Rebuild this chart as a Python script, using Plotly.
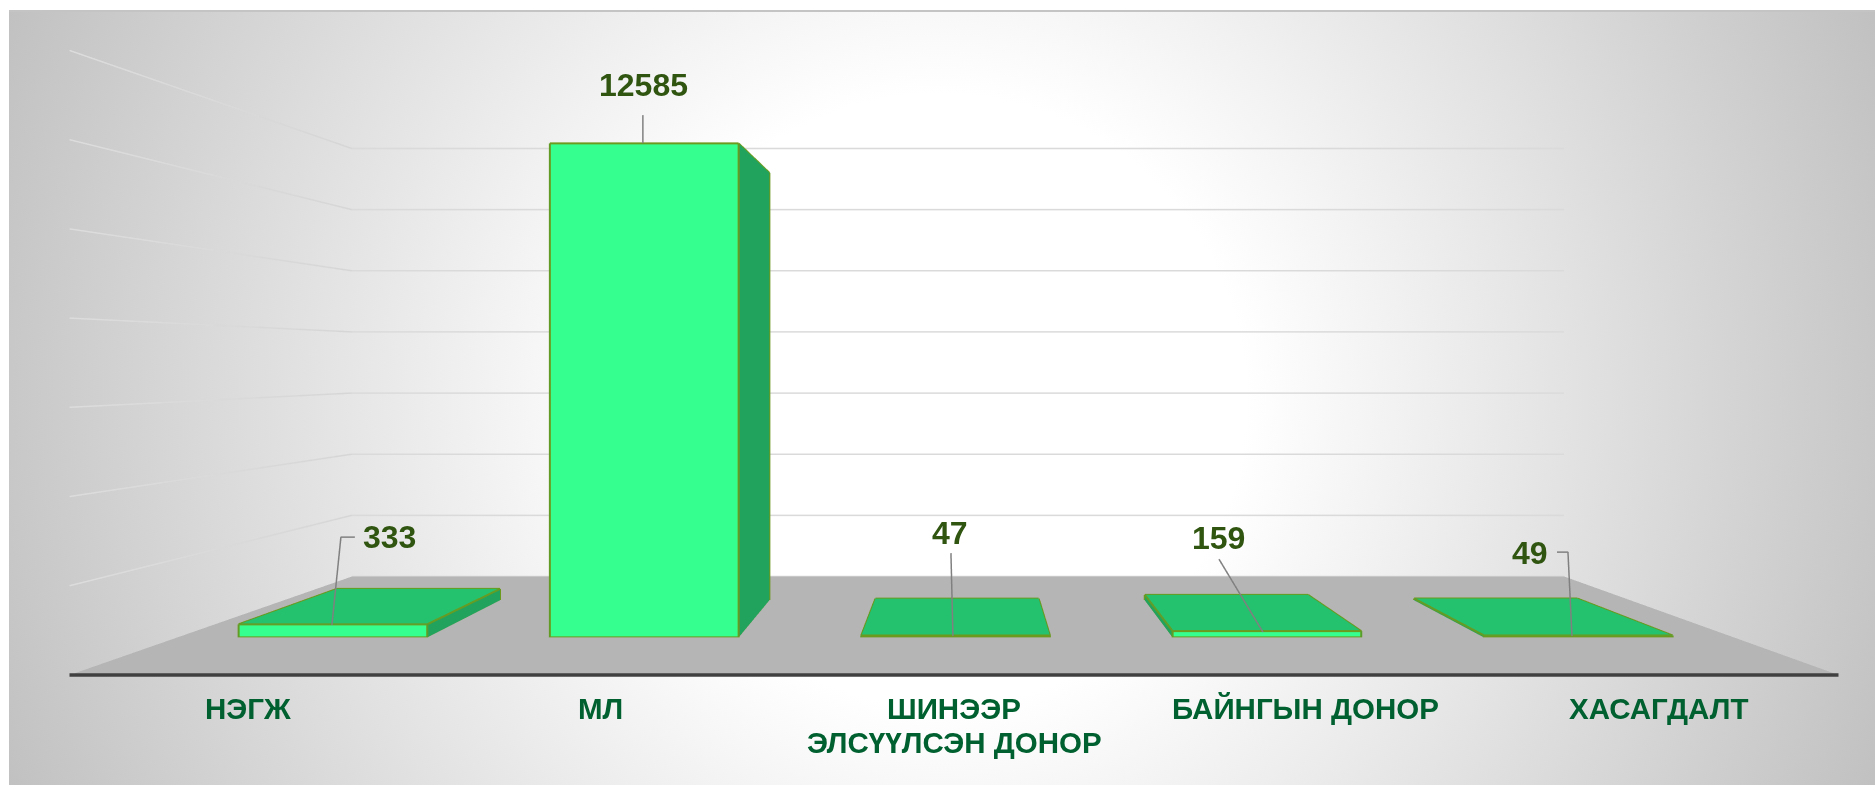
import base64
import plotly.graph_objects as go

categories = ["НЭГЖ", "МЛ", "ШИНЭЭР<br>ЭЛСҮҮЛСЭН ДОНОР", "БАЙНГЫН ДОНОР", "ХАСАГДАЛТ"]
values = [333, 12585, 47, 159, 49]
grid_values = [0, 2000, 4000, 6000, 8000, 10000, 12000, 14000]
cat_positions = [0.5, 1.5, 2.5, 3.5, 4.5]

# leader-line waypoints and label centres of the value callouts (screen px)
leaders = [[(332, 625), (341, 537), (355, 537)],
           [(643, 143), (643, 115)],
           [(953, 636), (951, 553)],
           [(1263, 632), (1219, 559)],
           [(1572, 636), (1568, 552), (1557, 552)]]
label_centres = [(389, 537), (643, 85), (950, 533), (1219, 538), (1530, 553)]
cat_xshift = [1, 0, 0, -2, -3]

BAR_W = 0.606
D0, D1 = 0.297, 0.683
ZMAX = 14000
ASPECT = dict(x=1.0, y=0.227, z=0.353)
EYE_DIST = 0.6075
EX, EZ = 0.0070, 0.0004
DOM_X, DOM_Y = [0.0326, 0.9984], [0.078, 1]

FRONT, TOP, SIDE, EDGE = "#35FF8E", "#24C26E", "#21A35D", "#6B9A1E"
FONT = "Liberation Sans, Arial, sans-serif"

# camera model, same one the scene uses: used only to place callouts in screen px
W, H = 1875, 785
CX = (DOM_X[0] + DOM_X[1]) / 2 * W
CY = (1 - (DOM_Y[0] + DOM_Y[1]) / 2) * H
PX = 1769.0
FRONT_DIST = EYE_DIST - ASPECT["y"] / 2

def scale_at(depth):
    return FRONT_DIST / (FRONT_DIST + depth * ASPECT["y"])

def project(x, depth, z):
    s = scale_at(depth)
    return (CX + (x / 5 - 0.5 - EX) * PX * s,
            CY - (z / ZMAX * ASPECT["z"] - ASPECT["z"] / 2 - EZ) * PX * s)

def unproject(px, py, depth):
    s = scale_at(depth)
    return ((((px - CX) / (PX * s)) + 0.5 + EX) * 5,
            ((CY - py) / (PX * s) + ASPECT["z"] / 2 + EZ) / ASPECT["z"] * ZMAX)

svg = ('<svg xmlns="http://www.w3.org/2000/svg" width="1875" height="785">'
       '<defs><radialGradient id="g" gradientUnits="userSpaceOnUse" cx="940" cy="400" r="1020">'
       '<stop offset="0.3" stop-color="#ffffff"/><stop offset="1" stop-color="#c0c0c0"/>'
       '</radialGradient></defs>'
       '<rect width="1875" height="785" fill="#ffffff"/>'
       '<rect x="9" y="10" width="1866" height="775" fill="url(#g)"/>'
       '<rect x="9" y="10" width="1866" height="2" fill="#c4c4c4"/></svg>')
bg = "data:image/svg+xml;base64," + base64.b64encode(svg.encode()).decode()

flat = dict(ambient=1, diffuse=0, specular=0, roughness=1, fresnel=0)
fig = go.Figure()

# floor
fig.add_trace(go.Mesh3d(x=[0, 5, 5, 0], y=[0, 0, 1, 1], z=[0, 0, 0, 0], i=[0, 0], j=[1, 2], k=[2, 3],
                        color="#b5b5b5", flatshading=True, hoverinfo="skip", lighting=flat))

# wall gridlines
gx, gy, gz = [], [], []
sx, sy, sz, sc = [], [], [], []
for g in grid_values:
    gx += [0, 5, None]
    gy += [1, 1, None]
    gz += [g, g, None]
    if g > 0:
        sx += [0, 0, None]
        sy += [0, 1, None]
        sz += [g, g, None]
        sc += ["#dcdcdc", "#d6d6d6", "#d6d6d6"]
fig.add_trace(go.Scatter3d(x=gx, y=gy, z=gz, mode="lines", line=dict(color="#dadada", width=3), hoverinfo="skip"))
fig.add_trace(go.Scatter3d(x=sx, y=sy, z=sz, mode="lines", line=dict(color=sc, width=3), hoverinfo="skip"))

# front floor edge
fig.add_trace(go.Scatter3d(x=[0, 5], y=[0, 0], z=[0, 0], mode="lines", line=dict(color="#404040", width=7), hoverinfo="skip"))

# bars
for c, v in zip(cat_positions, values):
    x0, x1 = c - BAR_W / 2, c + BAR_W / 2
    X = [x0, x1, x1, x0, x0, x1, x1, x0]
    Y = [D0, D0, D1, D1, D0, D0, D1, D1]
    Z = [0, 0, 0, 0, v, v, v, v]
    I = [0, 0, 4, 4, 1, 1, 0, 0, 0, 0, 2, 2]
    J = [1, 2, 5, 6, 2, 6, 3, 7, 1, 5, 3, 7]
    K_ = [2, 3, 6, 7, 6, 5, 7, 4, 5, 4, 7, 6]
    FC = [SIDE, SIDE, TOP, TOP, SIDE, SIDE, SIDE, SIDE, FRONT, FRONT, SIDE, SIDE]
    fig.add_trace(go.Mesh3d(x=X, y=Y, z=Z, i=I, j=J, k=K_, facecolor=FC, flatshading=True, hoverinfo="skip", lighting=flat))
    ex, ey, ez = [], [], []
    for a, b in [(0,1),(1,2),(2,3),(3,0),(4,5),(5,6),(6,7),(7,4),(0,4),(1,5),(2,6),(3,7)]:
        ex += [X[a], X[b], None]; ey += [Y[a], Y[b], None]; ez += [Z[a], Z[b], None]
    fig.add_trace(go.Scatter3d(x=ex, y=ey, z=ez, mode="lines", line=dict(color=EDGE, width=4), hoverinfo="skip"))

# callout leaders, in a plane just in front of the bars
LEAD = D0 - 0.02
lx, ly, lz = [], [], []
for path in leaders:
    for p in path:
        wx, wz = unproject(p[0], p[1], LEAD)
        lx.append(wx); ly.append(LEAD); lz.append(wz)
    lx.append(None); ly.append(None); lz.append(None)
fig.add_trace(go.Scatter3d(x=lx, y=ly, z=lz, mode="lines", line=dict(color="#808080", width=3), hoverinfo="skip"))

# annotations
anns = []
for c, t, xs in zip(cat_positions, categories, cat_xshift):
    for n, line in enumerate(t.split("<br>")):
        anns.append(dict(x=c, y=0, z=0, text="<b>%s</b>" % line, showarrow=False, yanchor="middle",
                         xshift=xs, yshift=-34 - 33.5 * n,
                         font=dict(family=FONT, size=29.5, color="#00602F")))
for c, v, lab in zip(cat_positions, values, label_centres):
    ax, ay = project(c, D0, v)
    anns.append(dict(x=c, y=D0, z=v, text="<b>%d</b>" % v, showarrow=False, yanchor="middle", xanchor="center",
                     xshift=lab[0] - ax, yshift=ay - lab[1],
                     font=dict(family=FONT, size=32, color="#2F5510")))

hidden = dict(visible=False, showgrid=False, zeroline=False, showticklabels=False, showspikes=False)
fig.update_layout(
    width=W, height=H, margin=dict(l=0, r=0, t=0, b=0),
    paper_bgcolor="rgba(0,0,0,0)", showlegend=False,
    images=[dict(source=bg, xref="paper", yref="paper", x=0, y=1, sizex=1, sizey=1,
                 sizing="stretch", layer="below", xanchor="left", yanchor="top")],
    scene=dict(
        domain=dict(x=DOM_X, y=DOM_Y),
        bgcolor="rgba(0,0,0,0)",
        xaxis=dict(range=[0, 5], **hidden), yaxis=dict(range=[0, 1], **hidden), zaxis=dict(range=[0, ZMAX], **hidden),
        aspectmode="manual", aspectratio=ASPECT,
        camera=dict(up=dict(x=0, y=0, z=1), center=dict(x=EX, y=0, z=EZ),
                    eye=dict(x=EX, y=-EYE_DIST, z=EZ), projection=dict(type="perspective")),
        annotations=anns, dragmode=False,
    ),
)
fig.write_html("out.html", post_script="document.body.style.margin='0';", config=dict(displayModeBar=False))
